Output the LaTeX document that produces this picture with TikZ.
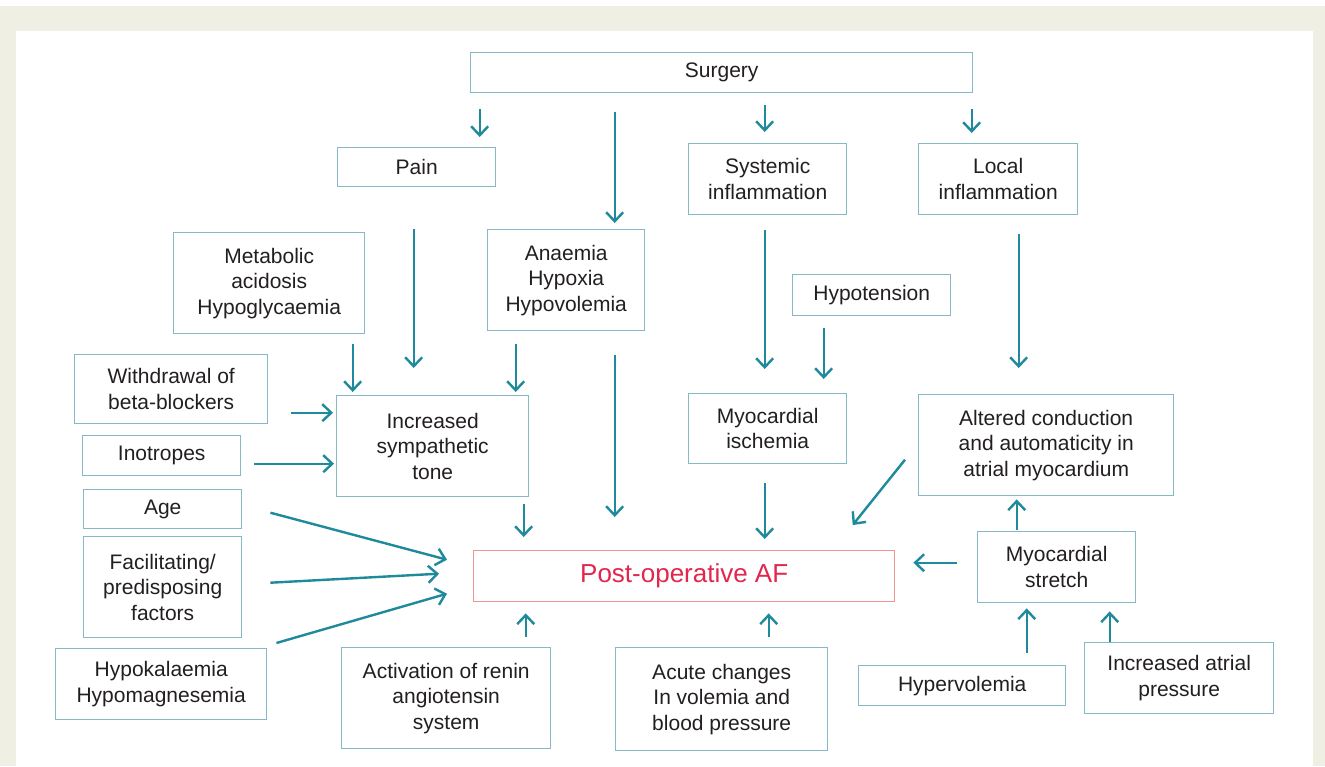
\documentclass[tikz,border=0pt]{standalone}
\usepackage{fontspec}
\setmainfont{Liberation Sans}
\usetikzlibrary{arrows.meta}
\definecolor{bgc}{HTML}{EFEFE4}
\definecolor{boxc}{HTML}{85B9C6}
\definecolor{arrc}{HTML}{1E8A9B}
\definecolor{txtc}{HTML}{231F20}
\definecolor{afred}{HTML}{E2264E}
\definecolor{afbox}{HTML}{F1938F}
\tikzset{
  box/.style={draw=boxc, line width=1.4pt, fill=white, inner sep=0pt, align=center,
    text=txtc, font=\fontsize{21pt}{25.5pt}\selectfont},
  afbox/.style={box, draw=afbox, text=afred, font=\fontsize{26pt}{30pt}\selectfont},
  arr/.style={draw=arrc, line width=2.4pt, -{Straight Barb[length=9pt,width=17pt]}}
}
\newcommand\bx[7][box]{\node[#1,anchor=north west,minimum width=#5pt-#3pt,minimum height=#6pt-#4pt] (#2) at (#3,#4) {#7};}
\begin{document}
\begin{tikzpicture}[x=1pt,y=-1pt]
\useasboundingbox (0,0) rectangle (1325,766);
\fill[bgc] (0,6) rectangle (1325,766);
\fill[white] (16,31) rectangle (1313,766);
% boxes
\bx{surgery}{470}{52}{972}{92}{Surgery}
\bx{pain}{337}{147}{495}{186}{Pain}
\bx{sys}{688}{143}{846}{214}{Systemic\\inflammation}
\bx{loc}{918}{143}{1077}{214}{Local\\inflammation}
\bx{met}{173}{232}{364}{333}{Metabolic\\acidosis\\Hypoglycaemia}
\bx{ana}{487}{229}{644}{330}{Anaemia\\Hypoxia\\Hypovolemia}
\bx{hypot}{792}{274}{950}{315}{Hypotension}
\bx{withd}{74}{354}{267}{423}{Withdrawal of\\beta-blockers}
\bx{ist}{336}{395}{528}{496}{Increased\\sympathetic\\tone}
\bx{mi}{688}{393}{846}{463}{Myocardial\\ischemia}
\bx{alt}{918}{394}{1173}{495}{Altered conduction\\and automaticity in\\atrial myocardium}
\bx{ino}{82}{435}{240}{475}{Inotropes}
\bx{age}{83}{489}{241}{528}{Age}
\bx{fac}{83}{536}{241}{637}{Facilitating/\\predisposing\\factors}
\bx{hypok}{55}{648}{266}{719}{Hypokalaemia\\Hypomagnesemia}
\bx[afbox]{af}{473}{550}{894}{601}{Post-operative AF}
\bx{str}{977}{531}{1135}{602}{Myocardial\\stretch}
\bx{hyperv}{858}{665}{1065}{705}{Hypervolemia}
\bx{iap}{1084}{642}{1273}{713}{Increased atrial\\pressure}
\bx{ren}{341}{647}{550}{748}{Activation of renin\\angiotensin\\system}
\bx{acu}{615}{647}{827}{750}{Acute changes\\In volemia and\\blood pressure}
% arrows
\draw[arr] ([shift={(-242,16)}]surgery.south) -- ([shift={(63,-10)}]pain.north);
\draw[arr] ([shift={(-107,19)}]surgery.south) -- ([shift={(48.5,-6)}]ana.north);
\draw[arr] ([shift={(43,12)}]surgery.south) -- ([shift={(-3,-11)}]sys.north);
\draw[arr] ([shift={(250,16)}]surgery.south) -- ([shift={(-26.5,-10)}]loc.north);
\draw[arr] ([shift={(-3,42)}]pain.south) -- ([shift={(-19,-27)}]ist.north);
\draw[arr] ([shift={(83.5,10)}]met.south) -- ([shift={(-80,-3)}]ist.north);
\draw[arr] ([shift={(-50.5,13)}]ana.south) -- ([shift={(83,-3)}]ist.north);
\draw[arr] ([shift={(48.5,24)}]ana.south) -- ([shift={(-69.5,-33)}]af.north);
\draw[arr] ([shift={(-3,15)}]sys.south) -- ([shift={(-3,-24)}]mi.north);
\draw[arr] ([shift={(-48,12)}]hypot.south) -- ([shift={(56,-14)}]mi.north);
\draw[arr] ([shift={(20.5,19)}]loc.south) -- ([shift={(-27.5,-26)}]alt.north);
\draw[arr] ([shift={(23,23.5)}]withd.east) -- ([shift={(-3,-33.5)}]ist.west);
\draw[arr] ([shift={(13,8)}]ino.east) -- ([shift={(-2,17.5)}]ist.west);
\draw[arr] ([shift={(91,7)}]ist.south) -- ([shift={(-160.5,-13)}]af.north);
\draw[arr] ([shift={(-3,19)}]mi.south) -- ([shift={(80.5,-11)}]af.north);
\draw[arr] ([shift={(-13,14.5)}]alt.west) -- ([shift={(168.5,-25)}]af.north);
\draw[arr] ([shift={(-40,-1)}]str.north) -- ([shift={(-29.5,3)}]alt.south);
\draw[arr] ([shift={(-20,-4.5)}]str.west) -- ([shift={(18,-13.5)}]af.east);
\draw[arr] ([shift={(28,3.5)}]age.east) -- ([shift={(-26,-16.5)}]af.west);
\draw[arr] ([shift={(28,-4.5)}]fac.east) -- ([shift={(-34,-2.5)}]af.west);
\draw[arr] ([shift={(9,-5)}]hypok.north east) -- ([shift={(-26,17.5)}]af.west);
\draw[arr] ([shift={(79.5,-10)}]ren.north) -- ([shift={(-158.5,11)}]af.south);
\draw[arr] ([shift={(47,-10)}]acu.north) -- ([shift={(84.5,11)}]af.south);
\draw[arr] ([shift={(64.5,-12)}]hyperv.north) -- ([shift={(-30,5)}]str.south);
\draw[arr] ([shift={(-69.5,0)}]iap.north) -- ([shift={(53,8)}]str.south);
\end{tikzpicture}
\end{document}
